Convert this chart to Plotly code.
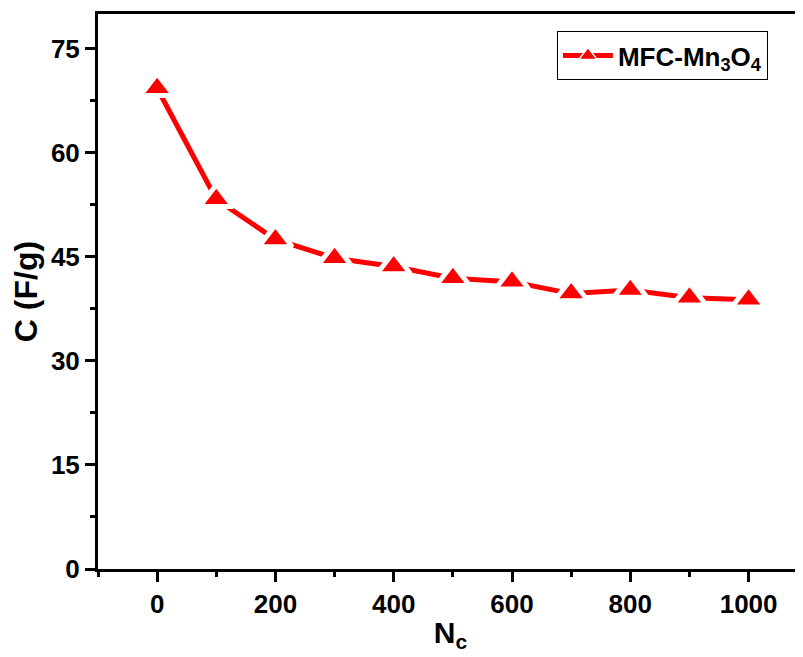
import plotly.graph_objects as go

cycles = [0, 100, 200, 300, 400, 500, 600, 700, 800, 900, 1000]
capacitance = [69.3, 53.3, 47.5, 44.8, 43.6, 41.9, 41.4, 39.7, 40.2, 39.1, 38.8]
series_name = "MFC-Mn<sub>3</sub>O<sub>4</sub>"
x_title = "N<sub>c</sub>"
y_title = "C (F/g)"

FONT = "Liberation Sans, Arial, sans-serif"
RED = "#FF0000"

fig = go.Figure()
fig.add_trace(go.Scatter(
    x=cycles, y=capacitance, mode="lines+markers", name=series_name,
    line=dict(color=RED, width=5),
    marker=dict(symbol="triangle-up", size=29, color=RED,
                line=dict(color="white", width=5)),
    showlegend=False,
))
# legend-only entry (markers in the legend are size-capped)
fig.add_trace(go.Scatter(
    x=[None], y=[None], mode="lines+markers", name=series_name,
    line=dict(color=RED, width=5),
    marker=dict(symbol="triangle-up", size=16, color=RED,
                line=dict(color="white", width=1.5)),
    showlegend=True,
))

fig.update_layout(
    width=795, height=649,
    margin=dict(l=90, r=0, t=6, b=88),
    paper_bgcolor="white", plot_bgcolor="white",
    font=dict(family=FONT, color="black", size=26, weight="bold"),
    showlegend=True,
    legend=dict(x=0.651, y=0.969, xanchor="left", yanchor="top",
                bordercolor="black", borderwidth=1, bgcolor="white",
                font=dict(size=26, family=FONT, weight="bold"),
                tracegroupgap=0, itemsizing="trace", itemwidth=50),
)

fig.update_xaxes(
    range=[-100, 1092], tickmode="linear", tick0=0, dtick=200,
    showline=True, linecolor="black", linewidth=3, mirror=True,
    ticks="outside", ticklen=10, tickwidth=3, tickcolor="black",
    minor=dict(ticks="outside", ticklen=5, tickwidth=3, tickcolor="black", dtick=100, tick0=0),
    showgrid=False, zeroline=False,
    tickfont=dict(size=26, family=FONT, weight="bold"),
    title=dict(text=x_title, font=dict(size=30, family=FONT, weight="bold"), standoff=4),
)
fig.update_yaxes(
    range=[0, 80], tickmode="linear", tick0=0, dtick=15,
    showline=True, linecolor="black", linewidth=3, mirror=False,
    ticks="outside", ticklen=10, tickwidth=3, tickcolor="black",
    minor=dict(ticks="outside", ticklen=5, tickwidth=3, tickcolor="black", dtick=7.5, tick0=0),
    showgrid=False, zeroline=False,
    tickfont=dict(size=26, family=FONT, weight="bold"),
    title=dict(text=y_title, font=dict(size=32, family=FONT, weight="bold"), standoff=12),
)

fig.write_html("out.html")
